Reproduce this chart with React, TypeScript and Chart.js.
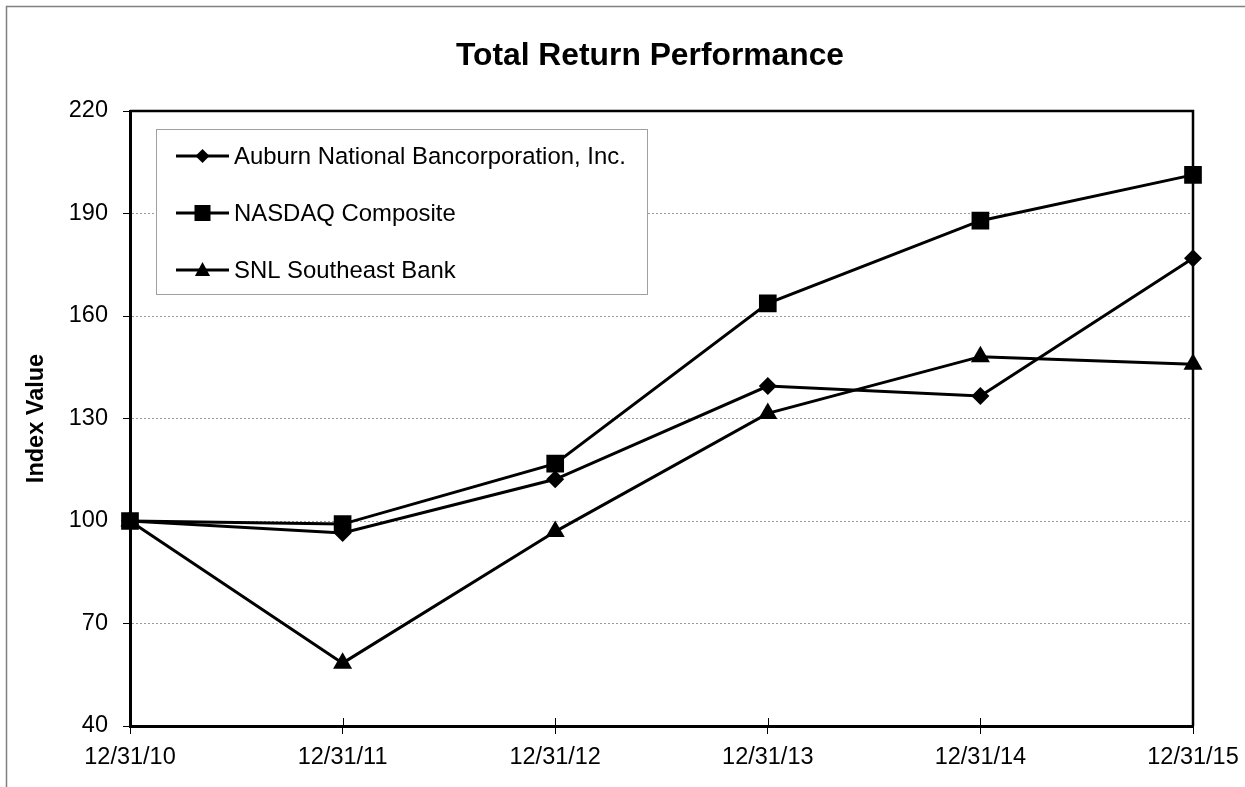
import React, { useEffect, useRef } from "react";
import { Chart, registerables } from "chart.js";

Chart.register(...registerables);

const categories = ["12/31/10", "12/31/11", "12/31/12", "12/31/13", "12/31/14", "12/31/15"];
const auburnValues = [100, 96.5, 112.2, 139.5, 136.6, 176.9];
const nasdaqValues = [100, 99.1, 116.8, 163.7, 187.9, 201.3];
const snlValues = [100, 58.4, 96.9, 131.5, 148.1, 145.9];
const seriesLabels = ["Auburn National Bancorporation, Inc.", "NASDAQ Composite", "SNL Southeast Bank"];
const yTicks = [40, 70, 100, 130, 160, 190, 220];
const chartTitle = "Total Return Performance";

const FONT = "'Liberation Sans', Arial, Helvetica, sans-serif";

function drawMarker(ctx: CanvasRenderingContext2D, style: string, x: number, y: number, r: number) {
  ctx.beginPath();
  if (style === "rectRot") {
    ctx.moveTo(x, y - r);
    ctx.lineTo(x + r, y);
    ctx.lineTo(x, y + r);
    ctx.lineTo(x - r, y);
  } else if (style === "rect") {
    ctx.rect(x - r, y - r, 2 * r, 2 * r);
  } else {
    ctx.moveTo(x, y - r);
    ctx.lineTo(x + r * 0.95, y + r * 0.75);
    ctx.lineTo(x - r * 0.95, y + r * 0.75);
  }
  ctx.closePath();
  ctx.fill();
}

const titlePlugin = {
  id: "titlePlugin",
  afterDraw(chart: any) {
    const { ctx } = chart;
    ctx.save();
    ctx.fillStyle = "#000";
    ctx.font = `bold 31.8px ${FONT}`;
    ctx.textAlign = "center";
    ctx.textBaseline = "middle";
    ctx.fillText(chartTitle, 650, 56);
    ctx.restore();
  },
};

const framePlugin = {
  id: "framePlugin",
  afterDraw(chart: any) {
    const { ctx, chartArea } = chart;
    const { left, right, top, bottom } = chartArea;
    ctx.save();
    ctx.strokeStyle = "#808080";
    ctx.lineWidth = 1.5;
    ctx.beginPath();
    ctx.moveTo(6.5, chart.height);
    ctx.lineTo(6.5, 6.5);
    ctx.lineTo(chart.width, 6.5);
    ctx.stroke();
    ctx.strokeStyle = "#000";
    ctx.lineWidth = 2.5;
    ctx.beginPath();
    ctx.moveTo(left, top);
    ctx.lineTo(right, top);
    ctx.lineTo(right, bottom);
    ctx.stroke();
    const xs = chart.scales.x;
    ctx.lineWidth = 1;
    ctx.beginPath();
    for (let i = 1; i < xs.ticks.length; i++) {
      const px = Math.round(xs.getPixelForTick(i)) + 0.5;
      ctx.moveTo(px, bottom);
      ctx.lineTo(px, bottom - 8);
    }
    ctx.stroke();
    ctx.restore();
  },
};

const boxLegendPlugin = {
  id: "boxLegendPlugin",
  afterDraw(chart: any) {
    const { ctx, chartArea } = chart;
    const bx = chartArea.left + 26;
    const by = chartArea.top + 18;
    const bw = 491;
    const bh = 165;
    ctx.save();
    ctx.fillStyle = "#fff";
    ctx.fillRect(bx, by, bw, bh);
    ctx.strokeStyle = "#a0a0a0";
    ctx.lineWidth = 1;
    ctx.strokeRect(bx + 0.5, by + 0.5, bw, bh);
    const rowGap = 57;
    chart.data.datasets.forEach((ds: any, i: number) => {
      const cy = by + 27 + i * rowGap;
      const x1 = bx + 20;
      const x2 = bx + 73;
      ctx.strokeStyle = "#000";
      ctx.lineWidth = 3;
      ctx.beginPath();
      ctx.moveTo(x1, cy);
      ctx.lineTo(x2, cy);
      ctx.stroke();
      ctx.fillStyle = "#000";
      const r = ds.pointStyle === "rectRot" ? 7 : 8;
      drawMarker(ctx, ds.pointStyle, (x1 + x2) / 2, cy, r);
      ctx.font = `23.9px ${FONT}`;
      ctx.textBaseline = "middle";
      ctx.textAlign = "left";
      ctx.fillText(ds.label, x2 + 5, cy + 1);
    });
    ctx.restore();
  },
};

export default function App() {
  const canvasRef = useRef<HTMLCanvasElement | null>(null);

  useEffect(() => {
    document.body.style.margin = "0";
    const canvas = canvasRef.current;
    if (!canvas) return;
    const mk = (label: string, data: number[], style: string, radius: number) => ({
      label,
      data,
      borderColor: "#000",
      backgroundColor: "#000",
      borderWidth: 3,
      pointStyle: style,
      pointRadius: radius,
      pointBackgroundColor: "#000",
      pointBorderColor: "#000",
      pointBorderWidth: 0,
      tension: 0,
    });
    const chart = new Chart(canvas, {
      type: "line",
      data: {
        labels: categories,
        datasets: [
          mk(seriesLabels[0], auburnValues, "rectRot", 9),
          mk(seriesLabels[1], nasdaqValues, "rect", 12.5),
          mk(seriesLabels[2], snlValues, "triangle", 11),
        ],
      },
      options: {
        responsive: false,
        animation: false,
        layout: { padding: { left: 10, right: 52, top: 111, bottom: 0 } },
        plugins: {
          legend: { display: false },
          tooltip: { enabled: false },
          title: { display: false },
        },
        scales: {
          x: {
            type: "category",
            offset: false,
            grid: {
              display: true,
              drawOnChartArea: false,
              drawTicks: true,
              tickLength: 8,
              tickColor: "#000",
              tickWidth: 1,
            },
            border: { display: true, color: "#000", width: 3 },
            ticks: {
              color: "#000",
              font: { family: FONT, size: 23.5 },
              padding: 9,
              maxRotation: 0,
              autoSkip: false,
            },
            afterFit: (scale: any) => {
              scale.height = 61;
              scale.paddingRight = 0;
              scale.paddingLeft = 0;
            },
          },
          y: {
            min: 40,
            max: 220,
            afterBuildTicks: (scale: any) => {
              scale.ticks = yTicks.map((v) => ({ value: v }));
            },
            grid: {
              display: true,
              color: "#9a9a9a",
              lineWidth: 1,
              drawTicks: true,
              tickLength: 7,
              tickColor: "#000",
              tickWidth: 1,
            },
            border: { display: true, color: "#000", width: 3, dash: [2, 2] },
            ticks: {
              color: "#000",
              font: { family: FONT, size: 23.5 },
              padding: 15,
            },
            title: {
              display: true,
              text: "Index Value",
              color: "#000",
              font: { family: FONT, size: 23.5, weight: "bold", lineHeight: 1.2 },
              padding: { top: 12, bottom: 0 },
            },
            afterFit: (scale: any) => {
              scale.width = 120;
            },
          },
        },
      },
      plugins: [framePlugin, boxLegendPlugin, titlePlugin],
    } as any);
    return () => chart.destroy();
  }, []);

  return (
    <div style={{ position: "absolute", left: 0, top: 0, width: 1245, height: 787, background: "#fff" }}>
      <canvas ref={canvasRef} width={1245} height={787} style={{ display: "block" }} />
    </div>
  );
}
